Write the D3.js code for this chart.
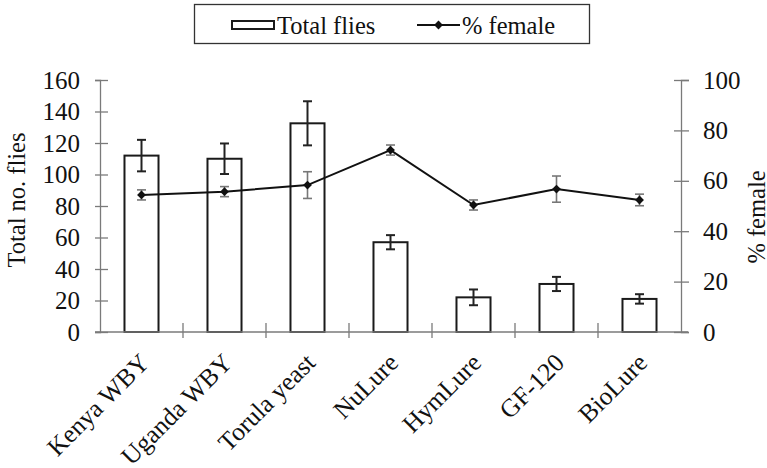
<!DOCTYPE html>
<html>
<head>
<meta charset="utf-8">
<script src="https://cdn.jsdelivr.net/npm/d3@7"></script>
<style>
  body { margin: 0; background: #fff; }
  svg { display: block; font-family: "Liberation Serif", "Times New Roman", serif; }
</style>
</head>
<body>
<div id="chart"></div>
<script>
var categories = ["Kenya WBY", "Uganda WBY", "Torula yeast", "NuLure", "HymLure", "GF-120", "BioLure"];
var totalFlies = [112, 110, 132.5, 57, 22, 30.5, 21];
var totalErr = [10, 9.7, 14, 4.5, 5, 4.5, 3];
var pctFemale = [54.4, 55.7, 58.3, 72.2, 50.4, 56.7, 52.4];
var pctErr = [2, 2, 5.3, 2, 2, 5.2, 2.3];
var leftTicks = [0, 20, 40, 60, 80, 100, 120, 140, 160];
var rightTicks = [0, 20, 40, 60, 80, 100];

var width = 767,
    height = 468;
var plotL = 100, plotR = 681, plotT = 80, plotB = 332;
var serif = '"Liberation Serif", "Times New Roman", serif';

var svg = d3.select('#chart').append('svg')
            .attr('width', width)
            .attr('height', height);

var x = d3.scaleBand().domain(categories).range([plotL, plotR]);
var yL = d3.scaleLinear().domain([0, 160]).range([plotB, plotT]);
var yR = d3.scaleLinear().domain([0, 100]).range([plotB, plotT]);

var axisColor = '#7a7a7a';
var barW = x.bandwidth() * 0.41;
function cx(d) { return x(d) + x.bandwidth() / 2; }

// bars
svg.selectAll('.bar').data(categories).enter()
   .append('rect')
   .attr('class', 'bar')
   .attr('x', function(d) { return cx(d) - barW / 2; })
   .attr('y', function(d, i) { return yL(totalFlies[i]); })
   .attr('width', barW)
   .attr('height', function(d, i) { return plotB - yL(totalFlies[i]); })
   .attr('fill', '#fff')
   .attr('stroke', '#1a1a1a')
   .attr('stroke-width', 2);

// error bars
function errBars(cls, vals, errs, scale, color, sw) {
  var g = svg.selectAll('.' + cls).data(categories).enter()
             .append('g').attr('class', cls)
             .attr('stroke', color).attr('stroke-width', sw);
  g.append('line')
   .attr('x1', cx).attr('x2', cx)
   .attr('y1', function(d, i) { return scale(vals[i] + errs[i]); })
   .attr('y2', function(d, i) { return scale(vals[i] - errs[i]); });
  [1, -1].forEach(function(s) {
    g.append('line')
     .attr('x1', function(d) { return cx(d) - 4.5; })
     .attr('x2', function(d) { return cx(d) + 4.5; })
     .attr('y1', function(d, i) { return scale(vals[i] + s * errs[i]); })
     .attr('y2', function(d, i) { return scale(vals[i] + s * errs[i]); });
  });
}
errBars('errT', totalFlies, totalErr, yL, '#222', 2);

// x axis line + boundary ticks
svg.append('line')
   .attr('x1', plotL - 5).attr('x2', plotR + 7)
   .attr('y1', plotB).attr('y2', plotB)
   .attr('stroke', axisColor).attr('stroke-width', 1.3);
svg.selectAll('.xtick').data(categories.slice(1)).enter()
   .append('line')
   .attr('x1', function(d) { return x(d); })
   .attr('x2', function(d) { return x(d); })
   .attr('y1', plotB - 9).attr('y2', plotB + 6)
   .attr('stroke', axisColor).attr('stroke-width', 1.3);

svg.selectAll('.xlabel').data(categories).enter()
   .append('text')
   .attr('transform', function(d) {
     return 'translate(' + (cx(d) - 3) + ',352) rotate(-45)';
   })
   .attr('text-anchor', 'end')
   .attr('dy', '0.68em')
   .attr('font-size', 25.5)
   .attr('fill', '#111')
   .text(function(d) { return d; });

// left axis
var gL = svg.append('g').attr('transform', 'translate(' + plotL + ',0)')
            .call(d3.axisLeft(yL).tickValues(leftTicks).tickSize(5).tickPadding(15));
gL.attr('font-family', serif).attr('font-size', 25);
gL.select('.domain').attr('stroke', axisColor).attr('stroke-width', 1.3);
gL.selectAll('.tick line').attr('x2', -5).attr('x1', 8)
  .attr('stroke', axisColor).attr('stroke-width', 1.3);
gL.selectAll('.tick text').attr('fill', '#111');

// right axis
var gR = svg.append('g').attr('transform', 'translate(' + plotR + ',0)')
            .call(d3.axisRight(yR).tickValues(rightTicks).tickSize(8).tickPadding(14));
gR.attr('font-family', serif).attr('font-size', 25);
gR.select('.domain').attr('stroke', axisColor).attr('stroke-width', 1.3);
gR.selectAll('.tick line').attr('x1', -7).attr('x2', 8)
  .attr('stroke', axisColor).attr('stroke-width', 1.3);
gR.selectAll('.tick text').attr('fill', '#111');

// axis titles
svg.append('text')
   .attr('transform', 'translate(25,' + ((plotT + plotB) / 2 - 6) + ') rotate(-90)')
   .attr('text-anchor', 'middle')
   .attr('font-size', 24.5)
   .attr('fill', '#111')
   .text('Total no. flies');
svg.append('text')
   .attr('transform', 'translate(765,' + ((plotT + plotB) / 2 + 11) + ') rotate(-90)')
   .attr('text-anchor', 'middle')
   .attr('font-size', 24.5)
   .attr('fill', '#111')
   .text('% female');

// % female line
errBars('errP', pctFemale, pctErr, yR, '#777', 1.6);
var line = d3.line()
  .x(function(d, i) { return cx(categories[i]); })
  .y(function(d) { return yR(d); });
svg.append('path').datum(pctFemale)
   .attr('d', line)
   .attr('fill', 'none')
   .attr('stroke', '#111')
   .attr('stroke-width', 2);
var diamond = d3.symbol().type(d3.symbolDiamond2).size(50);
svg.selectAll('.pt').data(pctFemale).enter()
   .append('path')
   .attr('d', diamond)
   .attr('transform', function(d, i) {
     return 'translate(' + cx(categories[i]) + ',' + yR(d) + ')';
   })
   .attr('fill', '#111');

// legend
var lg = svg.append('g');
lg.append('rect').attr('x', 194.5).attr('y', 4.5).attr('width', 395).attr('height', 39)
  .attr('fill', '#fff').attr('stroke', '#333').attr('stroke-width', 1.3);
lg.append('rect').attr('x', 232).attr('y', 21).attr('width', 42).attr('height', 8)
  .attr('fill', '#fff').attr('stroke', '#1a1a1a').attr('stroke-width', 2);
lg.append('text').attr('x', 277).attr('y', 34).attr('font-size', 24.5).attr('fill', '#111').text('Total flies');
lg.append('line').attr('x1', 417).attr('x2', 460).attr('y1', 25).attr('y2', 25)
  .attr('stroke', '#111').attr('stroke-width', 2);
lg.append('path').attr('d', diamond).attr('transform', 'translate(438.5,25)').attr('fill', '#111');
lg.append('text').attr('x', 462).attr('y', 34).attr('font-size', 24.5).attr('fill', '#111').text('% female');
</script>
</body>
</html>
